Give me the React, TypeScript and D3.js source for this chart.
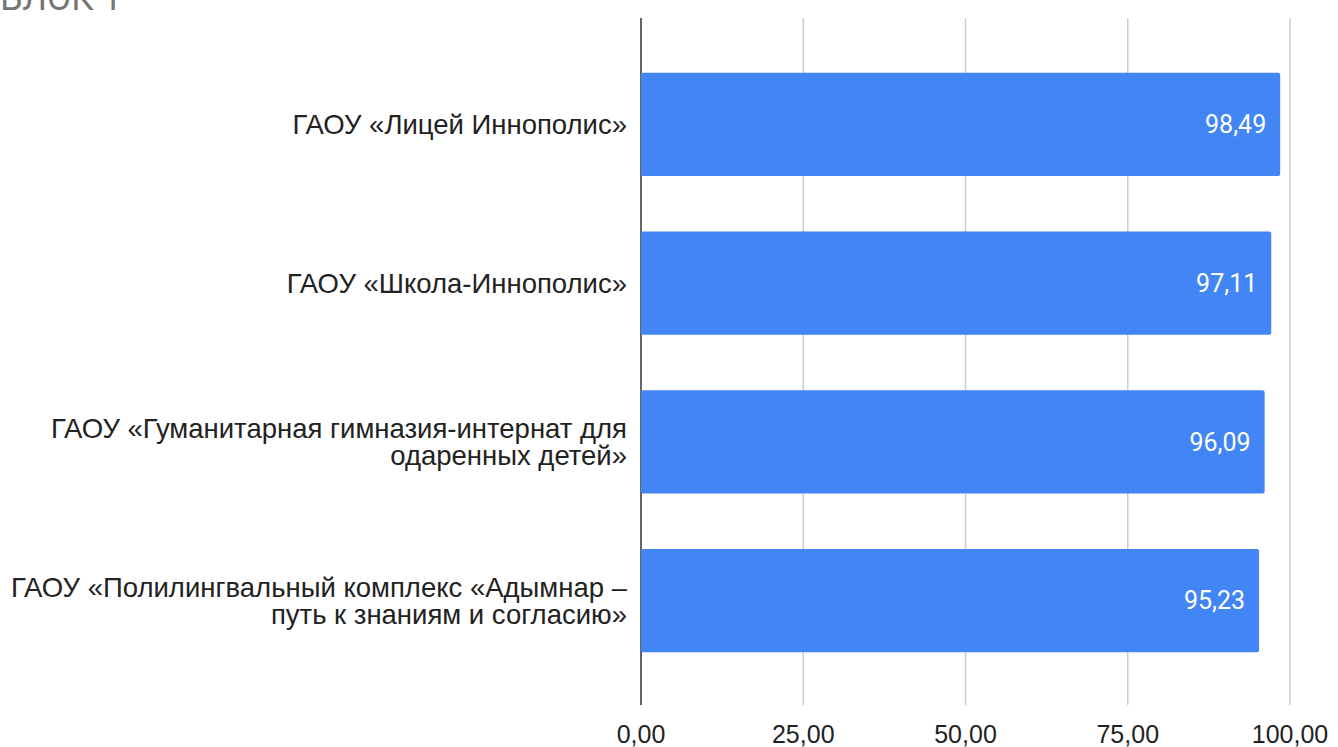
import * as d3 from 'd3'

const categories = [
  'ГАОУ «Лицей Иннополис»',
  'ГАОУ «Школа-Иннополис»',
  'ГАОУ «Гуманитарная гимназия-интернат для\nодаренных детей»',
  'ГАОУ «Полилингвальный комплекс «Адымнар –\nпуть к знаниям и согласию»',
]
const values = [98.49, 97.11, 96.09, 95.23]
const ticks = [0, 25, 50, 75, 100]
const title = 'БЛОК 1'

const width = 1338
const height = 747
const x0 = 641
const x1 = 1290
const fmt = (v: number) => v.toFixed(2).replace('.', ',')
const sans = '"Liberation Sans", Arial, sans-serif'
const roboto = 'Roboto, Arial, sans-serif'

export default function App() {
  const x = d3.scaleLinear().domain([0, 100]).range([x0, x1])
  const y = d3.scaleBand<number>()
    .domain(d3.range(categories.length))
    .range([45, 680])
    .paddingInner(0.35)
    .paddingOuter(0.175)

  return (
    <svg width={width} height={height} style={{ position: 'absolute', left: 0, top: 0 }} fontFamily={sans}>
      <rect width={width} height={height} fill="#fff" />
      <text x={122} y={10} textAnchor="end" fontSize={35} fontFamily={roboto} fill="#757575">{title}</text>
      {ticks.map(t => (
        <line key={t} x1={x(t)} x2={x(t)} y1={18} y2={705}
          stroke={t === 0 ? '#333' : '#ccc'} strokeWidth={1.5} />
      ))}
      {ticks.map(t => (
        <text key={'l' + t} x={x(t)} y={743} textAnchor="middle" fontSize={25} fill="#222">{fmt(t)}</text>
      ))}
      {values.map((v, i) => {
        const by = y(i)!
        const bh = y.bandwidth()
        const lines = categories[i].split('\n')
        const cy = by + bh / 2
        const lh = 27
        return (
          <g key={i}>
            <rect x={x(0)} y={by} width={x(v) - x(0)} height={bh} rx={2} fill="#4285F4" />
            <text x={x(v) - 14} y={cy} dy="0.35em" textAnchor="end" fontSize={25}
              fontFamily={roboto} fill="#fff">{fmt(v)}</text>
            {lines.map((ln, j) => (
              <text key={j} x={627} y={cy + (j - (lines.length - 1) / 2) * lh} dy="0.35em"
                textAnchor="end" fontSize={27.5} fill="#222">{ln}</text>
            ))}
          </g>
        )
      })}
    </svg>
  )
}
